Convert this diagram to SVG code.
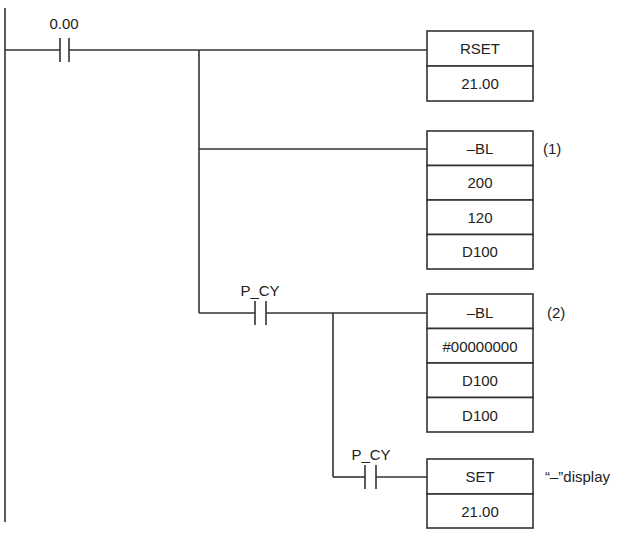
<svg xmlns="http://www.w3.org/2000/svg" width="634" height="537" viewBox="0 0 634 537">
<style>
line{stroke:#333;stroke-width:1.6}
rect{fill:#fff;stroke:#333;stroke-width:1.6}
text{font-family:"Liberation Sans",Arial,sans-serif;font-size:15px;fill:#222}
.c{text-anchor:middle}
</style>
<rect x="0" y="0" width="634" height="537" style="fill:#fff;stroke:none"/>
<g id="connectors">
<line x1="5" y1="8" x2="5" y2="522"/>
<line x1="5" y1="50" x2="60" y2="50"/><line x1="69" y1="50" x2="427" y2="50"/>
<line x1="199" y1="50" x2="199" y2="313"/>
<line x1="199" y1="149" x2="427" y2="149"/>
<line x1="199" y1="313" x2="255" y2="313"/><line x1="266" y1="313" x2="427" y2="313"/>
<line x1="333" y1="313" x2="333" y2="477"/>
<line x1="333" y1="477" x2="365" y2="477"/><line x1="376" y1="477" x2="427" y2="477"/>
</g>
<g id="contact1"><line x1="60" y1="38" x2="60" y2="62"/><line x1="69" y1="38" x2="69" y2="62"/><text class="c" x="64" y="29">0.00</text></g>
<g id="contact2"><line x1="255" y1="301" x2="255" y2="325"/><line x1="266" y1="301" x2="266" y2="325"/><text class="c" x="260" y="296">P_CY</text></g>
<g id="contact3"><line x1="365" y1="465" x2="365" y2="489"/><line x1="376" y1="465" x2="376" y2="489"/><text class="c" x="371" y="460">P_CY</text></g>
<g id="rset"><rect x="427" y="31" width="106" height="35"/><rect x="427" y="66" width="106" height="35"/>
<text class="c" x="480" y="54">RSET</text><text class="c" x="480" y="89">21.00</text></g>
<g id="bl1"><rect x="427" y="131" width="106" height="34.5"/><rect x="427" y="165.5" width="106" height="34.5"/><rect x="427" y="200" width="106" height="34.5"/><rect x="427" y="234.5" width="106" height="34.5"/>
<text class="c" x="480" y="154">–BL</text><text class="c" x="480" y="188">200</text><text class="c" x="480" y="223">120</text><text class="c" x="480" y="257">D100</text>
<text x="543" y="154">(1)</text></g>
<g id="bl2"><rect x="427" y="294" width="106" height="34.5"/><rect x="427" y="328.5" width="106" height="34.5"/><rect x="427" y="363" width="106" height="34.5"/><rect x="427" y="397.5" width="106" height="34.5"/>
<text class="c" x="480" y="318">–BL</text><text class="c" x="480" y="352">#00000000</text><text class="c" x="480" y="386">D100</text><text class="c" x="480" y="421">D100</text>
<text x="547" y="318">(2)</text></g>
<g id="set"><rect x="427" y="459" width="106" height="35"/><rect x="427" y="494" width="106" height="34"/>
<text class="c" x="480" y="482">SET</text><text class="c" x="480" y="517">21.00</text>
<text x="545" y="482">“–”display</text></g>
</svg>
